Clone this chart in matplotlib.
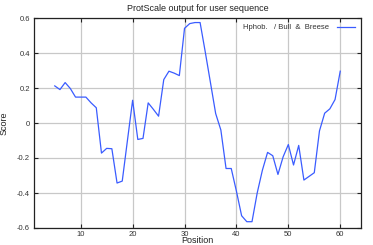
import matplotlib
matplotlib.use('Agg')
import matplotlib.pyplot as plt

# 位置与得分 (ProtScale, Hphob. / Bull & Breese)
positions = list(range(5, 61))
scores = [0.212, 0.191, 0.231, 0.197, 0.148, 0.148, 0.148, 0.115, 0.087,
          -0.172, -0.145, -0.147, -0.343, -0.332, -0.10, 0.130, -0.094, -0.088,
          0.115, 0.078, 0.039, 0.248, 0.296, 0.285, 0.271, 0.541, 0.568,
          0.574, 0.574, 0.405, 0.230, 0.054, -0.040, -0.260, -0.260, -0.390,
          -0.530, -0.564, -0.564, -0.400, -0.270, -0.168, -0.187, -0.294,
          -0.193, -0.123, -0.240, -0.128, -0.326, -0.305, -0.284, -0.045,
          0.056, 0.081, 0.134, 0.296]

xticks = [10, 20, 30, 40, 50, 60]
yticks = [-0.6, -0.4, -0.2, 0, 0.2, 0.4, 0.6]
ytick_labels = ['-0.6', '-0.4', '-0.2', '0', '0.2', '0.4', '0.6']

plt.rcParams['font.family'] = ['Liberation Sans', 'DejaVu Sans']

fig = plt.figure(figsize=(3.73, 2.45), dpi=100)
ax = fig.add_axes([34 / 373, 1 - 228 / 245, 327 / 373, 210 / 245])

ax.plot(positions, scores, color='#3a5cff', lw=0.9, label='Hphob.   / Bull  &  Breese')

ax.set_xlim(1, 64)
ax.set_ylim(-0.6, 0.6)
ax.set_xticks(xticks)
ax.set_yticks(yticks)
ax.set_yticklabels(ytick_labels)
ax.grid(True, color='#c8c8c8', lw=0.9)
ax.set_axisbelow(True)
ax.tick_params(direction='in', top=True, right=True, length=3, width=0.8,
               labelsize=5.5, labelcolor='#333333', color='#222222')
ax.tick_params(axis='x', pad=2)
ax.tick_params(axis='y', pad=3)
for s in ax.spines.values():
    s.set_linewidth(0.9)
    s.set_color('#222222')

ax.set_title('ProtScale output for user sequence', fontsize=6.5, color='#222222', pad=5)
ax.set_xlabel('Position', fontsize=6.5, color='#222222', labelpad=-1)
ax.set_ylabel('Score', fontsize=6.5, color='#222222', labelpad=6)

leg = ax.legend(loc='upper right', frameon=False, fontsize=5.5, handlelength=2.4,
                markerfirst=False, borderaxespad=0.4, handletextpad=1.0)
for t in leg.get_texts():
    t.set_color('#333333')

fig.savefig('out.png', dpi=100)
